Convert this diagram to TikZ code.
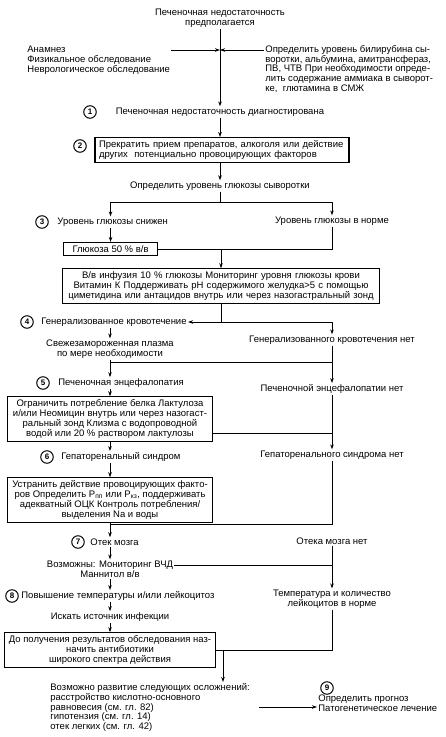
\documentclass[tikz,border=0pt]{standalone}
\usepackage{fontspec}
\setmainfont{Liberation Sans}
\usetikzlibrary{arrows.meta}

\begin{document}
\begin{tikzpicture}[x=1pt, y=-1pt, line width=0.8pt,
    >={Stealth[length=5pt, width=3.5pt]},
    font=\fontsize{9.5}{9.8}\selectfont,
    txt/.style={align=center, inner sep=1pt},
    lft/.style={align=left, inner sep=1pt},
    box/.style={draw, rectangle, line width=1.1pt, inner xsep=4pt, inner ysep=3pt},
    wide/.style={box, align=center, minimum width=205pt},
    num/.style={draw, circle, line width=1pt, inner sep=0pt, minimum size=12.5pt, font=\bfseries\fontsize{8}{8}\selectfont}]
    \useasboundingbox (0,0) rectangle (445,737);

    \node (top) [txt] at (220,18) {Печеночная недостаточность\\предполагается};
    \node (hist) [lft, anchor=west] at (26,60) {Анамнез\\Физикальное обследование\\Неврологическое обследование};
    \node (lab) [lft, anchor=west] at (264,69) {Определить уровень билирубина сы-\\воротки, альбумина, амитрансфераз,\\ПВ, ЧТВ При необходимости опреде-\\лить содержание аммиака в сыворот-\\ке,\ \ глютамина в СМЖ};
    \coordinate (j1) at (220,50);
    \node (n1) [num] at (90,112) {1};
    \node (diag) [txt] at (220,112) {Печеночная недостаточность диагностирована};

    \draw[->] (top) -- (diag);
    \draw[->] (hist.east |- j1) -- (j1);
    \draw[->] (lab.west |- j1) -- (j1);

    \node (n2) [num] at (80,146) {2};
    \node (stop) [box, text width=246pt, align=left] at (222,150) {Прекратить прием препаратов, алкоголя или действие\\других\ \ потенциально провоцирующих факторов};
    \draw[->] (diag) -- (diag |- stop.north);

    \node (gluc) [txt] at (220,186) {Определить уровень глюкозы сыворотки};
    \draw[->] (stop.south -| gluc) -- (gluc);
    \coordinate (s3) at (220,202);
    \node (n3) [num] at (42,222) {3};
    \node (low) [lft, anchor=west] at (56,222) {Уровень глюкозы снижен};
    \node (norm) [txt] at (332,221) {Уровень глюкозы в норме};
    \node (g50) [box, anchor=west, minimum width=94pt] at (63,249) {Глюкоза 50 \% в/в};
    \draw (gluc) -- (s3);
    \draw[->] (s3) -| (norm);
    \draw[->] (s3) -| (g50 |- low.north);
    \draw[->] (low.south -| g50) -- (g50);

    \node (infu) [box, text width=309pt, align=center] at (221,286) {В/в инфузия 10 \% глюкозы Мониторинг уровня глюкозы крови\\Витамин К Поддерживать рН содержимого желудка>5 с помощью\\циметидина или антацидов внутрь или через назогастральный зонд};
    \draw (norm) |- (g50.east);
    \draw[->] (g50.east -| infu) -- (infu);

    \node (n4) [num] at (27,322) {4};
    \node (bleed) [lft, anchor=west] at (40,322) {Генерализованное кровотечение};
    \node (nobleed) [txt] at (332,340) {Генерализованного кровотечения нет};
    \coordinate (s4) at (221,322);
    \draw (infu) -- (s4);
    \draw[->] (s4) -- (bleed);
    \draw[->] (s4) -| (nobleed);
    \node (ffp) [txt] at (110,349) {Свежезамороженная плазма\\по мере необходимости};
    \draw[->] (bleed.south -| ffp) -- (ffp);

    \coordinate (m5) at (332,362);
    \node (n5) [num] at (43,383) {5};
    \node (enceph) [lft, anchor=west] at (57,383) {Печеночная энцефалопатия};
    \node (noenc) [txt] at (332,389) {Печеночной энцефалопатии нет};
    \draw[->] (ffp) -- (ffp |- enceph.north);
    \draw (ffp.south |- m5) -- (m5);
    \draw[->] (nobleed) -- (noenc);

    \node (box5) [wide] at (110,419) {Ограничить потребление белка Лактулоза\\и/или Неомицин внутрь или через назогаст-\\ральный зонд Клизма с водопроводной\\водой или 20 \% раствором лактулозы};
    \draw[->] (enceph.south -| box5) -- (box5);
    \coordinate (j5) at (332,433);
    \draw (box5.east |- j5) -- (j5);

    \node (n6) [num] at (47,457) {6};
    \node (hrs) [lft, anchor=west] at (60,457) {Гепаторенальный синдром};
    \node (nohrs) [txt] at (332,455) {Гепаторенального синдрома нет};
    \draw[->] (noenc) -- (nohrs);
    \draw[->] (box5) -- (box5 |- hrs.north);

    \node (box6) [wide] at (110,500) {Устранить действие провоцирующих факто-\\ров Определить P\textsubscript{пп} или P\textsubscript{кз}, поддерживать\\адекватный ОЦК Контроль потребления/\\выделения Na и воды};
    \draw[->] (hrs.south -| box6) -- (box6);
    \coordinate (j6) at (332,524);
    \draw (nohrs) -- (j6) -- (box6.south |- j6);

    \node (n7) [num] at (78,542) {7};
    \node (edema) [lft, anchor=west] at (89,542) {Отек мозга};
    \node (noedema) [txt] at (332,541) {Отека мозга нет};
    \draw[->] (box6) -- (box6 |- edema.north);
    \node (icp) [txt] at (110,569) {Возможны: Мониторинг ВЧД\\Маннитол в/в};
    \draw[->] (edema.south -| icp) -- (icp);
    \coordinate (j7) at (332,565);
    \draw (icp.east |- j7) -- (j7);

    \node (n8) [num] at (12,596) {8};
    \node (fever) [lft, anchor=west] at (20,596) {Повышение температуры и/или лейкоцитоз};
    \node (normal) [txt] at (332,599) {Температура и количество\\лейкоцитов в норме};
    \draw[->] (noedema) -- (normal);
    \draw[->] (icp) -- (icp |- fever.north);
    \node (seek) [txt] at (110,617) {Искать источник инфекции};
    \draw[->] (fever.south -| seek) -- (seek);

    \node (box8) [wide] at (110,650) {До получения результатов обследования наз-\\начить антибиотики\\широкого спектра действия};
    \draw[->] (seek) -- (box8);
    \coordinate (j8) at (223,650);
    \draw (normal) |- (box8.east);

    \node (compl) [lft, anchor=north west] at (49,682) {Возможно развитие следующих осложнений:\\расстройство кислотно-основного\\равновесия (см. гл. 82)\\гипотензия (см. гл. 14)\\отек легких (см. гл. 42)};
    \draw[->] (j8) -- (j8 |- compl.north);
    \node (n9) [num] at (327,688) {9};
    \node (prog) [lft, anchor=west] at (317,703) {Определить прогноз\\Патогенетическое лечение};
    \coordinate (c9) at (259,707);
    \draw[->] (c9) -- (c9 -| prog.west);
\end{tikzpicture}
\end{document}
